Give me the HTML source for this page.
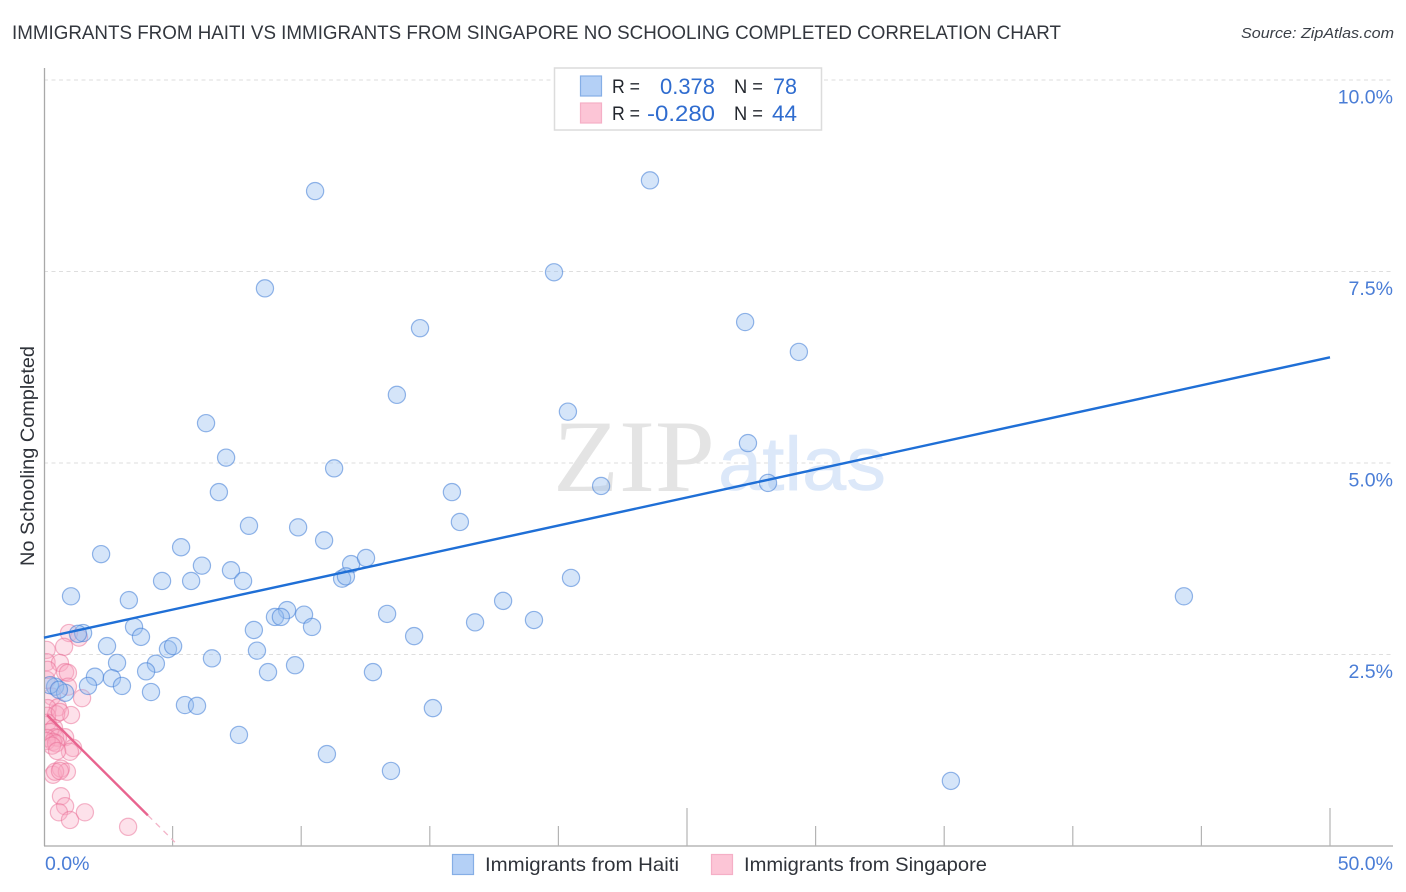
<!DOCTYPE html>
<html lang="en">
<head>
<meta charset="utf-8">
<title>Immigrants from Haiti vs Immigrants from Singapore No Schooling Completed Correlation Chart</title>
<style>
html,body{margin:0;padding:0;background:#fff;width:1406px;height:892px;overflow:hidden}
svg{display:block;font-family:"Liberation Sans",sans-serif}
</style>
</head>
<body>
<svg id="chart" xmlns="http://www.w3.org/2000/svg" width="1406" height="892" viewBox="0 0 1406 892">
  <defs>
    <clipPath id="plotClip"><rect x="45" y="60" width="1350" height="786"/></clipPath>
  </defs>
  <rect x="0" y="0" width="1406" height="892" fill="#ffffff"/>
  <text x="12" y="39" font-size="19.5" fill="#33373e" textLength="1049" lengthAdjust="spacingAndGlyphs">IMMIGRANTS FROM HAITI VS IMMIGRANTS FROM SINGAPORE NO SCHOOLING COMPLETED CORRELATION CHART</text>
  <text x="1394" y="38" font-size="15" font-style="italic" fill="#3a3f47" text-anchor="end" textLength="153" lengthAdjust="spacingAndGlyphs">Source: ZipAtlas.com</text>
  <g id="grid"></g>
  <g>
    <text x="553" y="491" font-family="'Liberation Serif',serif" font-size="103" fill="#e4e4e4" textLength="162" lengthAdjust="spacingAndGlyphs">ZIP</text>
    <text x="718" y="490" font-size="76" fill="#dce8f9" stroke="#dce8f9" stroke-width="0.6" textLength="168" lengthAdjust="spacingAndGlyphs">atlas</text>
  </g>
  <g id="axes"></g>
  <g id="dotsSingapore" clip-path="url(#plotClip)"></g>
  <g id="dotsHaiti" clip-path="url(#plotClip)"></g>
  <g id="trends"></g>
  <g id="labels"></g>
  <text transform="translate(34 456) rotate(-90)" font-size="19" fill="#2f333a" text-anchor="middle" textLength="220" lengthAdjust="spacingAndGlyphs">No Schooling Completed</text>

  <g>
    <rect x="554.5" y="68" width="267" height="62" fill="#ffffff" stroke="#dcdcdc" stroke-width="1.5"/>
    <rect x="580.5" y="76" width="21" height="20" fill="#b4d0f6" stroke="#85aee6" stroke-width="1.2"/>
    <rect x="580.5" y="103" width="21" height="20" fill="#fcc5d6" stroke="#f5afc6" stroke-width="1.2"/>
    <text x="612" y="93" font-size="19.5" fill="#23272e" textLength="28" lengthAdjust="spacingAndGlyphs">R =</text>
    <text x="715" y="94" font-size="22" fill="#2f6ccf" text-anchor="end" textLength="55" lengthAdjust="spacingAndGlyphs">0.378</text>
    <text x="734" y="93" font-size="19.5" fill="#23272e" textLength="29" lengthAdjust="spacingAndGlyphs">N =</text>
    <text x="797" y="94" font-size="22" fill="#2f6ccf" text-anchor="end" textLength="24" lengthAdjust="spacingAndGlyphs">78</text>
    <text x="612" y="120" font-size="19.5" fill="#23272e" textLength="28" lengthAdjust="spacingAndGlyphs">R =</text>
    <text x="715" y="121" font-size="22" fill="#2f6ccf" text-anchor="end" textLength="68" lengthAdjust="spacingAndGlyphs">-0.280</text>
    <text x="734" y="120" font-size="19.5" fill="#23272e" textLength="29" lengthAdjust="spacingAndGlyphs">N =</text>
    <text x="797" y="121" font-size="22" fill="#2f6ccf" text-anchor="end" textLength="25" lengthAdjust="spacingAndGlyphs">44</text>
  </g>

  <g>
    <g>
      <rect x="452.500" y="854.500" width="21" height="20" fill="#b4d0f6" stroke="#85aee6" stroke-width="1.2"/>
      <text x="485" y="871" font-size="19.5" fill="#2f333a" textLength="194" lengthAdjust="spacingAndGlyphs">Immigrants from Haiti</text>
    </g>
    <g>
      <rect x="711.500" y="854.500" width="21" height="20" fill="#fcc5d6" stroke="#f5afc6" stroke-width="1.2"/>
      <text x="744" y="871" font-size="19.5" fill="#2f333a" textLength="243" lengthAdjust="spacingAndGlyphs">Immigrants from Singapore</text>
    </g>
  </g>
</svg>
<script>
// ---- Chart data (percent values) ----
const haitiX = [10.54,23.56,19.83,8.59,14.62,27.26,29.35,13.72,20.37,6.30,7.08,27.37,11.28,21.66,28.15,6.80,15.86,16.17,7.97,9.88,10.89,5.33,2.22,11.94,12.52,6.14,7.27,4.59,5.72,7.74,11.59,11.74,20.49,1.05,3.30,44.32,17.85,9.45,8.98,9.21,10.11,13.34,16.76,19.05,10.42,3.50,1.52,1.32,3.77,8.16,14.39,2.45,4.82,5.02,8.28,6.53,2.84,4.35,3.97,9.76,8.71,12.79,1.98,2.64,1.71,3.03,0.43,0.23,0.82,0.58,4.16,5.48,5.95,15.12,7.58,11.00,13.49,35.26];
const haitiY = [8.55,8.69,7.49,7.28,6.76,6.84,6.45,5.89,5.67,5.52,5.07,5.26,4.93,4.70,4.74,4.62,4.62,4.23,4.18,4.16,3.99,3.90,3.81,3.68,3.76,3.66,3.60,3.46,3.46,3.46,3.49,3.52,3.50,3.26,3.21,3.26,3.20,3.08,2.99,2.99,3.02,3.03,2.92,2.95,2.86,2.86,2.78,2.77,2.73,2.82,2.74,2.61,2.57,2.61,2.55,2.45,2.39,2.38,2.28,2.36,2.27,2.27,2.21,2.19,2.09,2.09,2.08,2.10,2.00,2.04,2.01,1.84,1.83,1.80,1.45,1.20,0.98,0.85];
const singaporeX = [0.97,1.36,0.78,0.10,0.10,0.62,0.82,0.93,0.93,0.10,1.48,0.31,0.54,0.14,1.05,0.47,0.12,0.62,0.14,0.39,0.23,0.82,0.43,0.12,0.54,0.35,0.10,0.47,0.31,1.13,1.01,0.51,0.35,0.66,0.89,0.43,0.62,0.66,0.82,0.58,1.01,1.59,3.27,0.14];
const singaporeY = [2.78,2.72,2.60,2.56,2.40,2.39,2.27,2.26,2.08,2.17,1.93,1.95,1.81,1.80,1.71,1.72,1.70,1.75,1.61,1.54,1.49,1.42,1.42,1.41,1.41,1.36,1.37,1.34,1.31,1.28,1.23,1.24,0.93,1.01,0.97,0.97,0.98,0.65,0.52,0.44,0.34,0.44,0.25,2.30];
const haitiTrendX = [0,50];
const haitiTrendY = [2.72,6.38];
const singaporeSolidX = [0.12,4.04];
const singaporeSolidY = [1.71,0.40];
const singaporeDashX = [4.04,5.09];
const singaporeDashY = [0.40,0.05];
const xTickValues = [5,10,15,20,25,30,35,40,45,50];
const xMajorTicks = [25,50];
const yGridValues = [2.5,5,7.5,10];
const yTickLabels = ["2.5%","5.0%","7.5%","10.0%"];
const xEndValues = [0,50];
const xEndLabels = ["0.0%","50.0%"];

// ---- Axis functions ----
const SVGNS = "http://www.w3.org/2000/svg";
function sx(v){ return 44 + v * 25.72; }
function sy(v){ return 846 - v * 76.6; }
function make(tag, parentId){
  const el = document.createElementNS(SVGNS, tag);
  document.getElementById(parentId).appendChild(el);
  return el;
}

// gridlines + y tick labels
yGridValues.forEach(function(v, i){
  const g = make("line", "grid");
  
  
  g.setAttribute("x1", 44); g.setAttribute("x2", 1393);
  g.setAttribute("y1", sy(v)); g.setAttribute("y2", sy(v));
  g.setAttribute("stroke", "#dedede");
  g.setAttribute("stroke-width", "1");
  g.setAttribute("stroke-dasharray", "4 3.5");

  const t = make("text", "labels");
  
  
  t.setAttribute("x", 1393);
  t.setAttribute("y", sy(v) + 23.5);
  t.setAttribute("text-anchor", "end");
  t.setAttribute("font-size", "19.5");
  t.setAttribute("fill", "#4a7dd6");
  t.textContent = yTickLabels[i];
});

// x end labels
xEndValues.forEach(function(v, i){
  const t = make("text", "labels");
  
  
  t.setAttribute("x", i === 0 ? sx(v) + 1 : 1393);
  t.setAttribute("y", 870);
  t.setAttribute("text-anchor", i === 0 ? "start" : "end");
  t.setAttribute("font-size", "19.5");
  t.setAttribute("fill", "#4a7dd6");
  t.textContent = xEndLabels[i];
});

// axes
const yAxis = make("line", "axes");


yAxis.setAttribute("x1", 44.5); yAxis.setAttribute("x2", 44.5);
yAxis.setAttribute("y1", 68); yAxis.setAttribute("y2", 846);
yAxis.setAttribute("stroke", "#a9a9a9");
yAxis.setAttribute("stroke-width", "1.3");

const xAxis = make("line", "axes");


xAxis.setAttribute("x1", 44); xAxis.setAttribute("x2", 1393);
xAxis.setAttribute("y1", 846); xAxis.setAttribute("y2", 846);
xAxis.setAttribute("stroke", "#a9a9a9");
xAxis.setAttribute("stroke-width", "1.3");

xTickValues.forEach(function(v){
  const tk = make("line", "axes");
  
  
  tk.setAttribute("x1", sx(v)); tk.setAttribute("x2", sx(v));
  tk.setAttribute("y1", xMajorTicks.indexOf(v) >= 0 ? 808 : 826);
  tk.setAttribute("y2", 846);
  tk.setAttribute("stroke", "#b4b4b4");
  tk.setAttribute("stroke-width", "1.2");
});

// points
singaporeX.forEach(function(v, i){
  const c = make("circle", "dotsSingapore");
  
  
  c.setAttribute("cx", sx(v));
  c.setAttribute("cy", sy(singaporeY[i]));
  c.setAttribute("r", "8.6");
  c.setAttribute("fill", "rgba(248,170,195,0.35)");
  c.setAttribute("stroke", "rgba(234,110,150,0.5)");
  c.setAttribute("stroke-width", "1.2");
});
haitiX.forEach(function(v, i){
  const c = make("circle", "dotsHaiti");
  
  
  c.setAttribute("cx", sx(v));
  c.setAttribute("cy", sy(haitiY[i]));
  c.setAttribute("r", "8.6");
  c.setAttribute("fill", "rgba(150,190,240,0.4)");
  c.setAttribute("stroke", "rgba(70,130,215,0.58)");
  c.setAttribute("stroke-width", "1.2");
});

// trend lines
const tHaiti = make("line", "trends");


tHaiti.setAttribute("x1", sx(haitiTrendX[0])); tHaiti.setAttribute("y1", sy(haitiTrendY[0]));
tHaiti.setAttribute("x2", sx(haitiTrendX[1])); tHaiti.setAttribute("y2", sy(haitiTrendY[1]));
tHaiti.setAttribute("stroke", "#1f6fd6");
tHaiti.setAttribute("stroke-width", "2.4");

const tSing = make("line", "trends");


tSing.setAttribute("x1", sx(singaporeSolidX[0])); tSing.setAttribute("y1", sy(singaporeSolidY[0]));
tSing.setAttribute("x2", sx(singaporeSolidX[1])); tSing.setAttribute("y2", sy(singaporeSolidY[1]));
tSing.setAttribute("stroke", "#e8648f");
tSing.setAttribute("stroke-width", "2.4");

const tDash = make("line", "trends");


tDash.setAttribute("x1", sx(singaporeDashX[0])); tDash.setAttribute("y1", sy(singaporeDashY[0]));
tDash.setAttribute("x2", sx(singaporeDashX[1])); tDash.setAttribute("y2", sy(singaporeDashY[1]));
tDash.setAttribute("stroke", "#f3b4c8");
tDash.setAttribute("stroke-width", "1.3");
tDash.setAttribute("stroke-dasharray", "6 5");
</script>
</body>
</html>
